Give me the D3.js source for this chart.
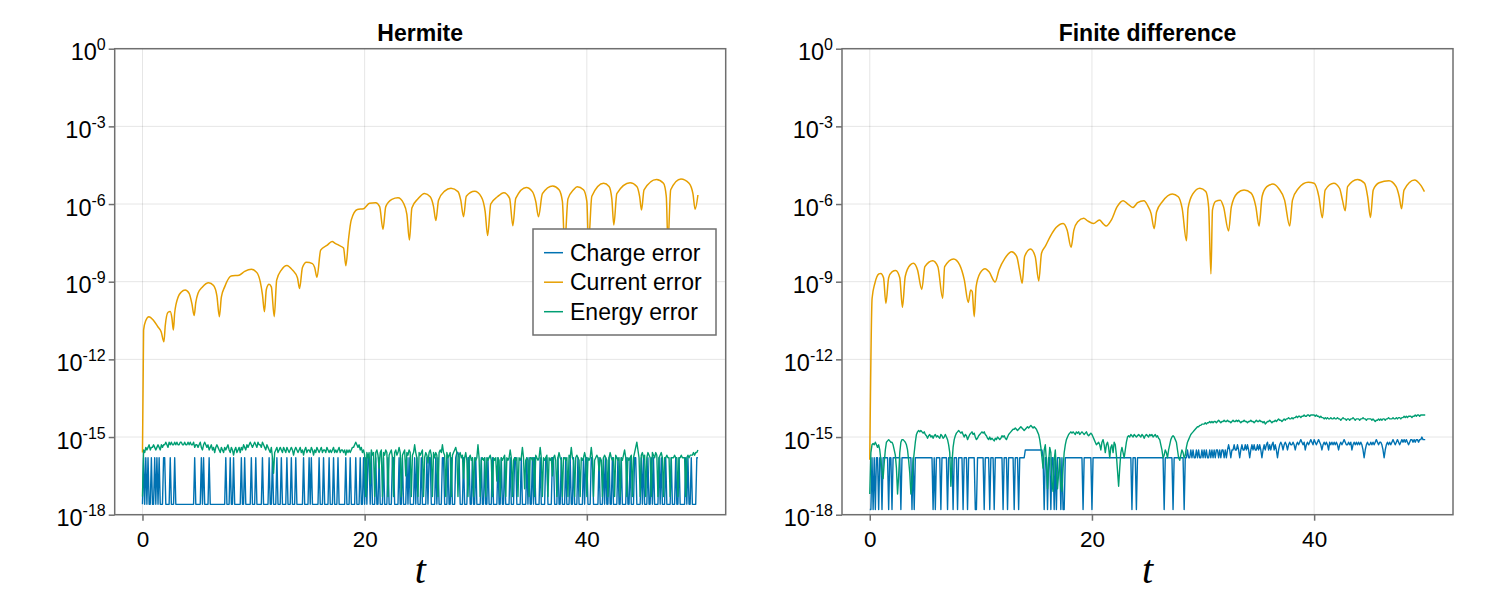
<!DOCTYPE html>
<html><head><meta charset="utf-8">
<script src="https://cdn.jsdelivr.net/npm/d3@7"></script>
<style>body{margin:0;background:#fff}</style>
</head><body>
<svg id="c" width="1500" height="606" xmlns="http://www.w3.org/2000/svg"></svg>
<script>
// ---------- data ----------
const panelTitles = ["Hermite", "Finite difference"];
const seriesNames = ["Charge error", "Current error", "Energy error"];
const seriesColors = ["#0072b2", "#e69f00", "#009e73"];
const xTicks = [0, 20, 40];
const yTickExponents = [0, -3, -6, -9, -12, -15, -18];
const noiseStep = 0.1; // time step of the sampled charge / energy series (t = 0 ... 50)

// quantised log10 levels of the charge error
const hL = -17.6, hH = -15.8, hM = -15.6;                       // Hermite
const fL = -17.8, fA = -15.8, fB = -15.5, fC = -15.3, fD = -15.2, fE = -15.1, fG = -15.0; // Finite difference

// Hermite – charge error (log10)
const hermiteChargeLog10 = [
hL,hH,hL,hH,hL,hH,hL,hL,hH,hL,
hL,hH,hL,hH,hL,hH,hL,hL,hL,hH,
hH,hL,hL,hL,hL,hH,hL,hL,hL,hH,
hL,hL,hL,hL,hL,hL,hL,hL,hL,hL,
hL,hL,hL,hL,hL,hL,hL,hH,hL,hL,
hL,hL,hL,hH,hL,hH,hL,hL,hL,hL,
hH,hL,hL,hL,hL,hL,hL,hL,hL,hL,
hL,hL,hL,hL,hL,hH,hL,hL,hL,hH,
hL,hL,hH,hL,hL,hL,hL,hL,hL,hH,
hL,hL,hH,hL,hL,hL,hL,hL,hH,hL,
hL,hL,hH,hL,hL,hL,hL,hL,hH,hL,
hL,hL,hL,hL,hH,hL,hL,hH,hL,hL,
hL,hH,hL,hL,hL,hH,hL,hL,hL,hL,
hH,hL,hL,hL,hH,hL,hL,hL,hH,hL,
hL,hL,hL,hL,hL,hH,hL,hL,hL,hL,
hH,hL,hH,hL,hL,hL,hL,hL,hL,hH,
hL,hL,hL,hH,hL,hL,hL,hL,hH,hL,
hL,hL,hH,hL,hL,hL,hH,hL,hL,hL,
hL,hL,hL,hH,hL,hL,hL,hH,hL,hL,
hL,hL,hH,hL,hL,hL,hH,hL,hL,hH,
hL,hH,hL,hH,hH,hL,hM,hL,hL,hL,
hH,hL,hL,hH,hL,hL,hL,hH,hL,hL,
hL,hH,hL,hL,hL,hH,hH,hL,hL,hL,
hL,hH,hL,hL,hH,hL,hL,hL,hH,hL,
hH,hL,hL,hL,hL,hH,hL,hH,hL,hL,
hL,hH,hL,hL,hL,hL,hH,hL,hH,hH,
hL,hL,hL,hL,hH,hL,hH,hL,hL,hL,
hH,hH,hL,hL,hL,hH,hL,hL,hH,hL,
hL,hL,hH,hM,hM,hH,hL,hL,hL,hH,
hL,hL,hL,hH,hH,hL,hL,hH,hL,hL,
hH,hL,hL,hL,hL,hH,hL,hL,hH,hL,
hL,hH,hL,hL,hL,hH,hL,hL,hL,hL,
hH,hL,hL,hH,hL,hL,hH,hL,hL,hL,
hL,hH,hL,hL,hL,hH,hH,hL,hL,hL,
hL,hH,hL,hL,hL,hL,hH,hL,hH,hL,
hL,hH,hL,hH,hL,hL,hL,hL,hH,hL,
hL,hL,hL,hH,hH,hL,hL,hL,hL,hH,
hH,hL,hL,hL,hH,hL,hL,hH,hL,hL,
hL,hH,hL,hL,hL,hH,hL,hL,hH,hL,
hL,hL,hH,hL,hL,hL,hL,hH,hL,hH,
hH,hL,hL,hL,hH,hH,hL,hL,hL,hL,
hL,hH,hL,hL,hL,hH,hL,hH,hL,hL,
hH,hL,hL,hH,hL,hL,hL,hL,hH,hL,
hL,hH,hL,hL,hL,hL,hH,hL,hL,hH,
hL,hL,hL,hH,hH,hL,hL,hL,hL,hH,
hL,hH,hL,hL,hL,hH,hL,hL,hH,hL,
hH,hL,hL,hL,hL,hH,hL,hH,hL,hL,
hL,hH,hL,hL,hL,hL,hH,hL,hL,hL,
hH,hL,hL,hH,hL,hL,hL,hL,hL,hH,
hL,hH,hL,hL,hH,hL,hL,hL,hL,hH,
hH];

// Hermite – energy error (log10)
const hermiteEnergyLog10 = [
-17.3,-15.5,-15.6,-15.4,-15.5,-15.4,-15.3,-15.5,-15.4,-15.4,
-15.3,-15.4,-15.5,-15.4,-15.3,-15.4,-15.5,-15.3,-15.4,-15.3,
-15.3,-15.2,-15.3,-15.4,-15.2,-15.3,-15.2,-15.3,-15.3,-15.2,
-15.3,-15.2,-15.3,-15.3,-15.2,-15.2,-15.3,-15.3,-15.2,-15.3,
-15.3,-15.2,-15.3,-15.2,-15.3,-15.3,-15.2,-15.4,-15.3,-15.3,
-15.4,-15.3,-15.2,-15.4,-15.5,-15.3,-15.2,-15.3,-15.4,-15.3,
-15.5,-15.4,-15.3,-15.5,-15.4,-15.6,-15.4,-15.3,-15.4,-15.5,
-15.6,-15.4,-15.5,-15.6,-15.4,-15.5,-15.4,-15.3,-15.5,-15.6,
-15.4,-15.5,-15.7,-15.5,-15.4,-15.6,-15.5,-15.4,-15.6,-15.4,
-15.5,-15.3,-15.4,-15.5,-15.3,-15.4,-15.3,-15.2,-15.3,-15.4,
-15.3,-15.2,-15.3,-15.4,-15.2,-15.3,-15.3,-15.4,-15.2,-15.3,
-15.4,-15.5,-15.3,-15.4,-15.5,-15.6,-15.4,-15.8,-16.4,-15.6,
-15.5,-15.4,-15.6,-15.5,-15.4,-15.5,-15.6,-15.4,-15.5,-15.6,
-15.4,-15.5,-15.6,-15.5,-15.4,-15.5,-15.7,-15.5,-15.4,-15.5,
-15.6,-15.5,-15.4,-15.6,-15.5,-15.7,-15.5,-15.4,-15.6,-15.5,
-15.5,-15.6,-15.4,-15.5,-15.7,-15.5,-15.6,-15.4,-15.5,-15.6,
-15.5,-15.4,-15.6,-15.5,-15.5,-15.6,-15.4,-15.5,-15.6,-15.5,
-15.6,-15.5,-15.4,-15.6,-15.5,-15.6,-15.5,-15.4,-15.6,-15.5,
-15.5,-15.6,-15.5,-15.7,-15.5,-15.6,-15.5,-15.6,-15.5,-15.4,
-15.4,-15.3,-15.2,-15.3,-15.4,-15.3,-15.5,-15.4,-15.6,-15.5,
-15.7,-17.3,-15.6,-15.8,-15.6,-16.8,-15.5,-15.7,-15.6,-17.3,
-15.6,-15.5,-15.7,-16.2,-15.6,-15.5,-17.3,-15.6,-15.7,-15.5,
-15.6,-17.3,-15.7,-15.6,-15.5,-15.8,-17.3,-15.6,-15.5,-15.7,
-15.6,-15.4,-15.6,-17.3,-15.7,-15.6,-15.5,-16.5,-15.6,-15.7,
-15.5,-15.6,-17.3,-15.7,-15.6,-15.3,-15.6,-15.8,-17.3,-15.6,
-15.7,-15.6,-15.5,-17.3,-15.8,-15.6,-15.7,-16.0,-15.6,-15.5,
-15.7,-17.3,-15.6,-15.8,-15.6,-15.7,-17.3,-15.6,-15.5,-15.6,
-15.3,-15.6,-15.7,-17.3,-15.6,-15.8,-15.7,-15.6,-17.3,-15.7,
-15.6,-15.5,-15.4,-15.6,-17.3,-15.7,-15.6,-15.8,-15.7,-16.6,
-15.8,-15.6,-15.9,-17.3,-15.8,-15.7,-15.9,-15.8,-17.3,-15.8,
-15.9,-15.8,-15.3,-15.8,-17.3,-15.9,-15.8,-15.9,-15.8,-17.3,
-15.8,-15.9,-15.8,-15.7,-15.9,-17.3,-15.8,-15.9,-15.8,-16.7,
-15.8,-15.9,-17.3,-15.8,-15.9,-15.8,-15.7,-17.3,-15.8,-15.9,
-15.8,-15.5,-15.8,-17.3,-15.9,-15.8,-15.9,-15.8,-17.3,-15.8,
-15.9,-15.8,-15.4,-15.8,-17.0,-15.9,-15.8,-15.9,-17.3,-15.8,
-15.8,-15.9,-15.8,-17.3,-15.7,-15.8,-15.9,-15.8,-15.4,-15.8,
-17.3,-15.8,-15.9,-15.8,-15.7,-17.3,-15.8,-15.9,-15.8,-16.5,
-15.8,-15.7,-15.9,-17.3,-15.8,-15.6,-15.8,-15.9,-17.3,-15.8,
-15.8,-15.9,-15.8,-17.3,-15.7,-15.8,-15.4,-15.8,-15.9,-17.3,
-15.8,-15.7,-15.8,-15.9,-17.3,-15.8,-15.9,-15.8,-15.6,-15.8,
-17.3,-15.8,-15.9,-15.8,-15.4,-15.8,-17.3,-15.9,-15.8,-15.7,
-15.8,-16.3,-15.8,-15.9,-17.3,-15.8,-15.7,-15.8,-15.9,-17.3,
-15.8,-15.6,-15.8,-15.9,-15.8,-17.3,-15.7,-15.8,-15.9,-15.8,
-17.3,-15.8,-15.9,-15.7,-15.5,-15.8,-17.3,-15.8,-15.9,-15.8,
-15.7,-17.3,-15.8,-15.6,-15.4,-15.2,-15.5,-15.8,-17.3,-15.7,
-15.6,-15.8,-15.7,-17.3,-15.8,-15.6,-15.7,-15.8,-17.3,-15.6,
-15.7,-15.8,-15.6,-15.7,-17.3,-15.8,-15.7,-15.6,-15.8,-17.3,
-15.8,-15.8,-15.7,-15.8,-15.8,-17.3,-15.8,-15.8,-15.8,-15.7,
-15.8,-15.8,-17.3,-15.8,-15.8,-15.7,-15.8,-15.8,-15.8,-17.3,
-15.8,-15.7,-15.8,-15.7,-15.7,-15.7,-15.6,-15.7,-15.6,-15.6,
-15.5];

// Hermite – current error, [t, log10]
const hermiteCurrentLog10 = [
[0,-15.6],[0.1,-10.87],[0.3,-10.5],[0.58,-10.35],[1.0,-10.5],[1.4,-10.75],[1.68,-10.93],[1.93,-11.32],
[2.05,-10.7],[2.3,-10.18],[2.5,-10.15],[2.65,-10.4],[2.78,-10.87],[2.9,-10.2],[3.22,-9.58],[3.5,-9.4],
[3.84,-9.32],[4.2,-9.45],[4.45,-9.85],[4.65,-10.31],[4.8,-9.8],[5.0,-9.45],[5.4,-9.2],[5.96,-9.04],
[6.4,-9.15],[6.7,-9.55],[6.92,-10.35],[7.1,-9.6],[7.4,-9.2],[7.98,-8.78],[8.7,-8.75],[9.2,-8.6],
[9.81,-8.52],[10.3,-8.65],[10.6,-9.0],[10.8,-9.5],[10.98,-10.16],[11.15,-9.3],[11.39,-9.1],[11.6,-9.2],
[11.86,-10.35],[12.08,-8.94],[12.5,-8.55],[13.0,-8.37],[13.5,-8.55],[13.95,-8.85],[14.14,-9.26],[14.4,-8.45],
[14.76,-8.25],[15.3,-8.3],[15.5,-8.45],[15.71,-8.83],[16.04,-7.78],[16.6,-7.6],[17.07,-7.45],[17.35,-7.52],
[17.7,-7.6],[18.1,-7.7],[18.31,-8.38],[18.55,-7.35],[18.79,-6.62],[19.34,-6.21],[19.9,-6.18],[20.44,-5.97],
[20.99,-5.95],[21.35,-6.1],[21.65,-6.98],[21.9,-6.1],[22.45,-5.82],[23.0,-5.76],[23.5,-5.97],[23.8,-6.4],
[24.03,-7.39],[24.25,-6.15],[24.8,-5.8],[25.39,-5.59],[25.9,-5.72],[26.2,-6.1],[26.41,-6.64],[26.65,-5.85],
[27.2,-5.5],[27.77,-5.39],[28.4,-5.52],[28.65,-5.85],[28.9,-6.49],[29.15,-5.7],[29.9,-5.51],[30.5,-5.72],
[30.85,-6.3],[31.07,-7.22],[31.35,-6.0],[31.95,-5.72],[32.53,-5.56],[33.05,-5.78],[33.34,-6.84],[33.6,-5.78],
[34.55,-5.36],[35.1,-5.52],[35.4,-5.9],[35.65,-6.49],[36.0,-5.6],[36.93,-5.30],[37.5,-5.45],[37.8,-5.9],
[38.0,-7.6],[38.3,-5.8],[38.8,-5.45],[39.13,-5.33],[39.7,-5.45],[40.0,-5.9],[40.15,-7.5],[40.45,-5.7],
[41.51,-5.2],[42.0,-5.32],[42.25,-5.8],[42.43,-6.81],[42.7,-5.6],[43.89,-5.18],[44.5,-5.32],[44.75,-5.7],
[44.92,-6.23],[45.15,-5.45],[46.27,-5.05],[46.9,-5.2],[47.15,-5.7],[47.3,-7.5],[47.55,-5.45],[48.47,-5.03],
[49.2,-5.2],[49.55,-5.6],[49.75,-6.2],[50.0,-5.65]];

// Finite difference – charge error (log10)
const fdChargeLog10 = [
fL,fL,fA,fL,fA,fL,fA,fA,fL,fA,
fA,fL,fA,fA,fA,fA,fA,fL,fA,fA,
fL,fA,fA,fA,fA,fA,fA,fA,fL,fA,
fA,fA,fA,fA,fA,fA,fA,fA,fL,fA,
fL,fA,fA,fA,fA,fA,fA,fA,fA,fA,
fA,fA,fA,fA,fA,fA,fA,fL,fA,fL,
fA,fA,fA,fA,fL,fA,fA,fA,fA,fA,
fL,fA,fA,fA,fA,fL,fA,fA,fA,fL,
fA,fA,fA,fA,fL,fA,fA,fA,fL,fA,
fA,fA,fA,fA,fA,fL,fL,fA,fA,fA,
fA,fA,fA,fL,fA,fA,fA,fA,fL,fA,
fA,fA,fL,fA,fA,fA,fA,fA,fA,fA,
fL,fA,fA,fA,fL,fA,fA,fA,fA,fA,
fL,fA,fA,fA,fL,fA,fA,fA,fA,fA,
fB,fB,fB,fB,fB,fB,fB,fB,fB,fB,
fB,fB,fB,fB,fB,fB,fA,fL,fA,fA,
fL,fA,fA,fL,fA,fA,fL,fA,fL,fA,
fA,fA,fL,fA,fL,fL,fA,fA,fA,fA,
fA,fA,fA,fA,fA,fA,fA,fA,fA,fA,
fA,fA,fL,fA,fA,fA,fA,fA,fA,fA,
fL,fA,fA,fA,fA,fA,fA,fA,fA,fA,
fA,fA,fA,fA,fA,fA,fA,fA,fA,fA,
fA,fA,fA,fA,fA,fA,fA,fA,fA,fA,
fA,fA,fA,fA,fA,fA,fL,fA,fA,fA,
fL,fA,fA,fA,fA,fA,fA,fA,fA,fA,
fA,fA,fA,fA,fA,fA,fA,fA,fA,fA,
fA,fA,fA,fA,fA,fL,fA,fA,fA,fA,
fA,fA,fA,fL,fA,fA,fA,fA,fA,fA,
fA,fA,fA,fL,fA,fA,fB,fA,fA,fB,
fA,fB,fA,fA,fB,fA,fB,fA,fA,fB,
fA,fB,fA,fB,fA,fA,fB,fA,fB,fA,
fB,fA,fB,fB,fA,fB,fA,fB,fB,fA,
fB,fA,fB,fC,fB,fA,fB,fB,fC,fB,
fB,fC,fB,fA,fB,fC,fB,fB,fC,fB,
fC,fB,fA,fB,fC,fB,fC,fB,fB,fC,
fB,fC,fB,fA,fB,fC,fB,fC,fD,fB,
fC,fB,fC,fD,fB,fC,fB,fA,fB,fC,
fD,fC,fB,fC,fD,fC,fB,fC,fD,fC,
fC,fD,fC,fB,fC,fD,fC,fD,fE,fD,
fC,fD,fB,fC,fD,fC,fD,fE,fD,fC,
fE,fD,fC,fD,fE,fD,fC,fB,fC,fD,
fC,fD,fC,fB,fD,fC,fD,fC,fD,fC,
fD,fC,fB,fC,fD,fC,fD,fE,fD,fC,
fC,fD,fC,fD,fB,fC,fD,fC,fD,fC,
fD,fC,fD,fC,fB,fA,fB,fC,fD,fC,
fC,fD,fC,fD,fC,fD,fE,fD,fC,fD,
fD,fC,fB,fA,fB,fC,fD,fC,fD,fC,
fD,fE,fD,fC,fD,fE,fD,fC,fD,fE,
fD,fE,fD,fE,fD,fC,fD,fE,fE,fD,
fE,fD,fE,fE,fD,fE,fE,fG,fE,fE,
fE];

// Finite difference – energy error (log10)
const fdEnergyLog10 = [
-17.2,-15.6,-15.3,-15.25,-15.3,-15.2,-15.3,-15.4,-15.3,-15.5,
-15.9,-16.3,-16.6,-16.0,-15.5,-15.2,-15.15,-15.1,-15.15,-15.2,
-15.2,-15.3,-15.5,-15.7,-16.2,-17.2,-16.5,-15.6,-15.2,-15.1,
-15.1,-15.15,-15.2,-15.3,-15.5,-15.9,-16.4,-17.2,-16.8,-16.0,
-15.6,-15.2,-14.9,-14.8,-14.75,-14.8,-14.75,-14.8,-14.85,-14.8,
-14.9,-14.95,-15.05,-14.95,-14.9,-15.0,-14.95,-15.05,-14.95,-14.9,
-15.0,-14.95,-15.0,-15.05,-14.9,-14.95,-15.05,-15.0,-14.9,-15.0,
-15.1,-15.3,-15.6,-16.9,-16.0,-15.4,-15.1,-14.95,-14.85,-14.8,
-14.75,-14.8,-14.85,-14.8,-14.9,-15.0,-14.9,-14.95,-15.1,-15.0,
-14.9,-14.85,-14.8,-14.9,-14.85,-15.0,-15.1,-15.05,-14.95,-14.9,
-14.85,-14.8,-14.85,-14.8,-14.9,-14.95,-15.05,-15.1,-15.0,-15.1,
-15.05,-15.1,-15.15,-15.05,-15.1,-15.0,-15.05,-15.1,-15.05,-14.95,
-15.0,-14.95,-15.05,-15.1,-15.0,-14.9,-14.85,-14.8,-14.75,-14.7,
-14.7,-14.65,-14.7,-14.75,-14.7,-14.65,-14.6,-14.65,-14.7,-14.75,
-14.7,-14.65,-14.6,-14.65,-14.6,-14.55,-14.6,-14.65,-14.6,-14.65,
-14.7,-14.8,-14.9,-15.1,-15.4,-15.8,-16.2,-15.5,-15.3,-15.9,
-17.0,-16.0,-15.4,-15.6,-16.8,-17.1,-15.9,-15.5,-16.3,-17.0,
-16.4,-15.8,-16.9,-17.1,-16.2,-15.6,-15.3,-15.1,-15.0,-14.9,
-14.85,-14.8,-14.85,-14.8,-14.85,-14.9,-14.8,-14.85,-14.8,-14.9,
-14.85,-14.8,-14.85,-14.9,-14.85,-14.8,-14.9,-14.95,-14.9,-14.85,
-14.9,-15.0,-15.1,-15.2,-15.3,-15.25,-15.2,-15.3,-15.5,-15.2,
-15.1,-15.3,-15.6,-15.3,-15.2,-15.4,-15.8,-15.4,-15.3,-15.6,
-15.2,-15.3,-15.7,-16.3,-16.9,-16.2,-15.6,-15.4,-15.6,-15.8,
-15.5,-15.2,-15.0,-14.95,-15.0,-14.9,-14.95,-15.0,-14.9,-14.95,
-15.0,-14.95,-14.9,-14.95,-15.0,-14.9,-14.95,-15.05,-14.95,-14.9,
-14.95,-15.0,-14.9,-14.95,-14.9,-15.0,-14.95,-14.9,-15.0,-14.95,
-15.05,-15.1,-15.3,-15.5,-15.8,-15.7,-15.5,-15.6,-15.8,-15.5,
-15.3,-15.1,-15.0,-14.95,-15.0,-15.1,-15.2,-15.5,-15.8,-15.9,
-15.7,-15.5,-15.6,-15.8,-15.7,-15.4,-15.2,-15.1,-15.0,-14.9,
-14.85,-14.8,-14.75,-14.7,-14.65,-14.6,-14.6,-14.55,-14.55,-14.5,
-14.5,-14.5,-14.45,-14.5,-14.45,-14.45,-14.4,-14.45,-14.4,-14.45,
-14.4,-14.4,-14.45,-14.4,-14.35,-14.4,-14.45,-14.4,-14.4,-14.35,
-14.4,-14.4,-14.35,-14.4,-14.4,-14.45,-14.4,-14.35,-14.4,-14.4,
-14.35,-14.4,-14.35,-14.4,-14.45,-14.4,-14.4,-14.35,-14.4,-14.4,
-14.45,-14.4,-14.4,-14.35,-14.4,-14.4,-14.45,-14.4,-14.35,-14.4,
-14.4,-14.35,-14.4,-14.4,-14.45,-14.4,-14.5,-14.45,-14.4,-14.4,
-14.35,-14.4,-14.45,-14.4,-14.4,-14.35,-14.4,-14.35,-14.3,-14.35,
-14.35,-14.4,-14.35,-14.3,-14.35,-14.3,-14.3,-14.25,-14.3,-14.3,
-14.25,-14.3,-14.25,-14.25,-14.2,-14.25,-14.2,-14.2,-14.25,-14.2,
-14.2,-14.15,-14.2,-14.2,-14.15,-14.15,-14.2,-14.15,-14.15,-14.15,
-14.15,-14.2,-14.15,-14.2,-14.2,-14.25,-14.2,-14.25,-14.25,-14.3,
-14.25,-14.3,-14.25,-14.3,-14.3,-14.25,-14.3,-14.3,-14.25,-14.3,
-14.3,-14.25,-14.3,-14.3,-14.35,-14.3,-14.25,-14.3,-14.3,-14.35,
-14.3,-14.3,-14.35,-14.3,-14.3,-14.25,-14.3,-14.35,-14.3,-14.3,
-14.3,-14.35,-14.3,-14.3,-14.25,-14.3,-14.3,-14.35,-14.3,-14.3,
-14.3,-14.3,-14.35,-14.3,-14.35,-14.4,-14.35,-14.35,-14.3,-14.35,
-14.3,-14.35,-14.3,-14.3,-14.35,-14.3,-14.3,-14.25,-14.3,-14.3,
-14.3,-14.25,-14.3,-14.3,-14.25,-14.3,-14.25,-14.25,-14.3,-14.25,
-14.25,-14.2,-14.25,-14.2,-14.25,-14.2,-14.2,-14.2,-14.25,-14.2,
-14.2,-14.15,-14.2,-14.15,-14.15,-14.2,-14.15,-14.15,-14.15,-14.15,
-14.15];

// Finite difference – current error, [t, log10]
const fdCurrentLog10 = [
[0,-15.88],[0.21,-9.64],[0.46,-9.06],[0.82,-8.70],[0.99,-8.68],[1.24,-8.85],[1.45,-9.84],[1.7,-8.85],
[2.0,-8.62],[2.34,-8.57],[2.7,-8.85],[2.94,-9.99],[3.19,-8.8],[3.65,-8.35],[3.94,-8.29],[4.3,-8.55],
[4.68,-9.30],[4.96,-8.42],[5.67,-8.19],[6.13,-8.42],[6.56,-9.64],[6.74,-8.42],[7.55,-8.12],[8.09,-8.35],
[8.51,-8.93],[8.87,-9.80],[9.08,-9.32],[9.22,-9.38],[9.40,-10.35],[9.57,-9.2],[9.93,-8.67],[10.39,-8.50],
[10.74,-8.62],[11.28,-9.01],[11.63,-8.55],[12.16,-8.1],[12.77,-7.84],[13.23,-8.03],[13.48,-8.55],[13.72,-9.06],
[13.94,-8.03],[14.47,-7.74],[14.89,-8.03],[15.21,-8.97],[15.46,-7.9],[15.82,-7.62],[16.24,-7.26],[16.77,-6.91],
[17.41,-6.75],[17.77,-7.01],[18.12,-7.67],[18.37,-7.01],[18.72,-6.68],[19.26,-6.55],[19.61,-6.65],[20.14,-6.75],
[20.67,-6.62],[21.03,-6.77],[21.28,-6.85],[21.74,-6.62],[22.27,-6.10],[22.8,-5.87],[23.16,-5.97],[23.69,-6.13],
[24.11,-5.95],[24.68,-5.87],[25.04,-6.08],[25.32,-6.36],[25.6,-6.95],[25.82,-6.3],[26.35,-5.9],[27.23,-5.61],
[27.77,-5.72],[28.12,-6.17],[28.51,-7.42],[28.65,-6.17],[29.08,-5.61],[29.72,-5.39],[30.25,-5.52],[30.5,-6.1],
[30.71,-8.70],[30.85,-6.23],[31.13,-5.9],[31.56,-5.85],[31.84,-6.1],[32.3,-7.04],[32.55,-6.1],[33.09,-5.58],
[33.69,-5.46],[34.33,-5.58],[34.75,-6.1],[35.04,-6.85],[35.32,-5.7],[35.74,-5.33],[36.28,-5.23],[36.81,-5.4],
[37.34,-5.85],[37.8,-6.85],[38.05,-5.85],[38.58,-5.4],[39.47,-5.16],[40.0,-5.2],[40.43,-5.72],[40.74,-6.53],
[40.99,-5.46],[41.77,-5.2],[42.3,-5.4],[42.55,-5.85],[42.8,-6.26],[43.01,-5.33],[43.9,-5.05],[44.54,-5.2],
[44.82,-5.72],[45.07,-6.52],[45.32,-5.46],[45.85,-5.18],[46.74,-5.1],[47.38,-5.33],[47.66,-5.72],[47.87,-6.18],
[48.09,-5.46],[49.04,-5.07],[49.57,-5.26],[49.93,-5.52]];

// ---------- drawing ----------
const FONT = "'Liberation Sans', Arial, Helvetica, sans-serif";
const svg = d3.select("#c");
svg.append("rect").attr("width", 1500).attr("height", 606).attr("fill", "#fff");

const panels = [
  {left: 114.7, title: panelTitles[0], charge: hermiteChargeLog10, current: hermiteCurrentLog10, energy: hermiteEnergyLog10, legend: true},
  {left: 842, title: panelTitles[1], charge: fdChargeLog10, current: fdCurrentLog10, energy: fdEnergyLog10, legend: false}
];
const plotTop = 48.7, W = 611, H = 466;
const spineColor = "#6f6f6f";

panels.forEach((p, pi) => {
  const x = d3.scaleLinear().domain([-2.5, 52.5]).range([0, W]);
  const y = d3.scaleLog().domain([1e-18, 1]).range([H, 0]);
  const g = svg.append("g").attr("transform", `translate(${p.left},${plotTop})`);

  // grid
  g.append("g").selectAll("line").data(xTicks).join("line")
    .attr("x1", d => x(d)).attr("x2", d => x(d)).attr("y1", 0).attr("y2", H)
    .attr("stroke", "#000").attr("stroke-opacity", 0.1).attr("stroke-width", 1);
  g.append("g").selectAll("line").data(yTickExponents).join("line")
    .attr("x1", 0).attr("x2", W).attr("y1", d => y(Math.pow(10, d))).attr("y2", d => y(Math.pow(10, d)))
    .attr("stroke", "#000").attr("stroke-opacity", 0.1).attr("stroke-width", 1);

  const clipId = "clip" + pi;
  g.append("clipPath").attr("id", clipId).append("rect").attr("width", W).attr("height", H);
  const plot = g.append("g").attr("clip-path", `url(#${clipId})`);

  const noisy = d3.line().x((d, i) => x(i * noiseStep)).y(d => y(Math.pow(10, d)));
  const smooth = d3.line().x(d => x(d[0])).y(d => y(Math.pow(10, d[1]))).curve(d3.curveMonotoneX);

  plot.append("path").attr("d", noisy(p.charge)).attr("fill", "none")
    .attr("stroke", seriesColors[0]).attr("stroke-width", 1.4).attr("stroke-linejoin", "round");
  plot.append("path").attr("d", smooth(p.current)).attr("fill", "none")
    .attr("stroke", seriesColors[1]).attr("stroke-width", 1.5).attr("stroke-linejoin", "round");
  plot.append("path").attr("d", noisy(p.energy)).attr("fill", "none")
    .attr("stroke", seriesColors[2]).attr("stroke-width", 1.4).attr("stroke-linejoin", "round");

  // spines
  g.append("rect").attr("width", W).attr("height", H).attr("fill", "none")
    .attr("stroke", spineColor).attr("stroke-width", 1.5);

  // x axis
  const xa = g.append("g").attr("transform", `translate(0,${H})`)
    .call(d3.axisBottom(x).tickValues(xTicks).tickSize(6).tickPadding(10).tickFormat(d3.format("d")));
  xa.select(".domain").remove();
  xa.selectAll(".tick line").attr("stroke", spineColor).attr("stroke-width", 1.5);
  xa.selectAll(".tick text").attr("font-family", FONT).attr("font-size", 22.5).attr("fill", "#000");

  // y axis
  const ya = g.append("g")
    .call(d3.axisLeft(y).tickValues(yTickExponents.map(e => Math.pow(10, e))).tickSize(6).tickPadding(3).tickFormat(() => ""));
  ya.select(".domain").remove();
  ya.selectAll(".tick line").attr("stroke", spineColor).attr("stroke-width", 1.5);
  ya.selectAll(".tick text").each(function(d) {
    const e = Math.round(Math.log10(d));
    const t = d3.select(this).attr("font-family", FONT).attr("fill", "#000").attr("dy", null).attr("y", 11);
    t.append("tspan").attr("font-size", 23.5).text("10");
    t.append("tspan").attr("font-size", 16).attr("dy", -10).text(e < 0 ? "-" + (-e) : String(e));
  });

  // title
  g.append("text").attr("x", W / 2).attr("y", -8).attr("text-anchor", "middle")
    .attr("font-family", FONT).attr("font-weight", "bold").attr("font-size", 23).text(p.title);

  // x label
  g.append("text").attr("x", W / 2).attr("y", H + 68).attr("text-anchor", "middle")
    .attr("font-family", "'Liberation Serif', 'DejaVu Serif', serif").attr("font-style", "italic")
    .attr("font-size", 40).text("t");

  if (p.legend) {
    const lg = g.append("g").attr("transform", `translate(${533 - p.left},${229 - plotTop})`);
    lg.append("rect").attr("width", 183).attr("height", 106).attr("fill", "#fff")
      .attr("stroke", spineColor).attr("stroke-width", 1.5);
    seriesNames.forEach((n, i) => {
      const cy = 23.7 + i * 29.5;
      lg.append("line").attr("x1", 11).attr("x2", 30).attr("y1", cy).attr("y2", cy)
        .attr("stroke", seriesColors[i]).attr("stroke-width", 1.5);
      lg.append("text").attr("x", 37).attr("y", cy).attr("dy", "0.35em")
        .attr("font-family", FONT).attr("font-size", 23).text(n);
    });
  }
});
</script>
</body></html>
